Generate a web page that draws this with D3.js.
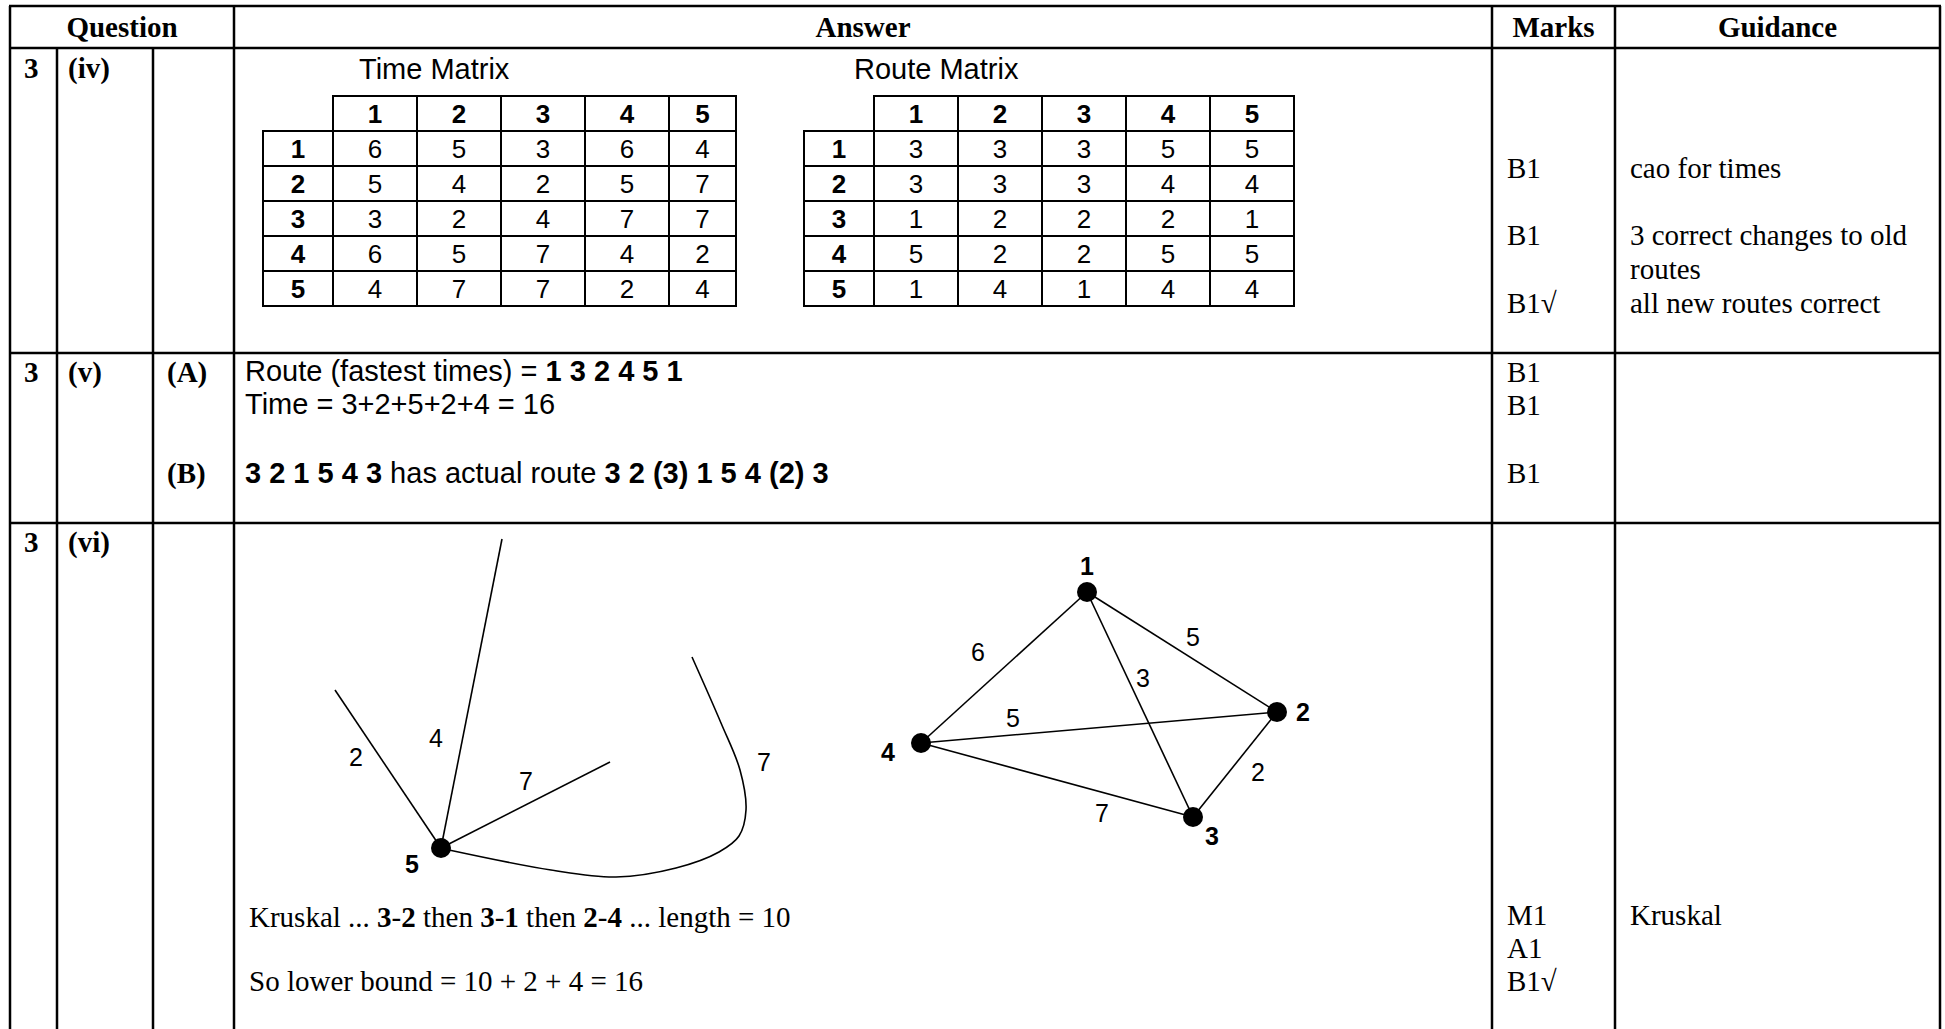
<!DOCTYPE html>
<html>
<head>
<meta charset="utf-8">
<script src="https://cdn.jsdelivr.net/npm/d3@7"></script>
<style>
	html, body { margin: 0; padding: 0; background: #fff; }
	svg { display: block; }
	.serif { font-family: "Liberation Serif", "Times New Roman", serif; font-size: 29px; }
	.sans { font-family: "Liberation Sans", Arial, sans-serif; }
</style>
</head>
<body>
<div id="chart"></div>
<script>
// --- DATA --- //
var headers = ["Question", "Answer", "Marks", "Guidance"];
var nodeNames = ["1", "2", "3", "4", "5"];
var timeMatrix = [
	[6, 5, 3, 6, 4],
	[5, 4, 2, 5, 7],
	[3, 2, 4, 7, 7],
	[6, 5, 7, 4, 2],
	[4, 7, 7, 2, 4]
];
var routeMatrix = [
	[3, 3, 3, 5, 5],
	[3, 3, 3, 4, 4],
	[1, 2, 2, 2, 1],
	[5, 2, 2, 5, 5],
	[1, 4, 1, 4, 4]
];
var matrixTitles = ["Time Matrix", "Route Matrix"];
// network without vertex 5
var edges = [
	{ a: "1", b: "4", w: 6 },
	{ a: "1", b: "2", w: 5 },
	{ a: "1", b: "3", w: 3 },
	{ a: "4", b: "2", w: 5 },
	{ a: "2", b: "3", w: 2 },
	{ a: "4", b: "3", w: 7 }
];
// arcs out of vertex 5
var arcs5 = [2, 4, 7, 7];
var marksIV = ["B1", "B1", "B1\u221A"];
var guidanceIV = ["cao for times", "3 correct changes to old", "routes", "all new routes correct"];
var marksV = ["B1", "B1", "B1"];
var marksVI = ["M1", "A1", "B1\u221A"];
var guidanceVI = ["Kruskal"];

var W = 1945, H = 1029;
var svg = d3.select("#chart").append("svg")
	.attr("width", W)
	.attr("height", H);

svg.append("rect").attr("width", W).attr("height", H).attr("fill", "#fff");

// --- TABLE GRID --- //
var colX = [10, 57, 153, 234, 1492, 1615, 1940],
	rowY = [6, 48, 353, 523],
	grid = svg.append("g").attr("stroke", "#000").attr("stroke-width", 2.5);

rowY.forEach(function(y) {
	grid.append("line").attr("x1", colX[0] - 1).attr("x2", colX[6] + 1).attr("y1", y).attr("y2", y);
});
colX.forEach(function(x, i) {
	// sub-question dividers don't run through the header
	var top = (i === 1 || i === 2) ? rowY[1] : rowY[0];
	grid.append("line").attr("x1", x).attr("x2", x).attr("y1", top).attr("y2", H + 5);
});

// header labels
var headCenters = [(colX[0] + colX[3]) / 2, (colX[3] + colX[4]) / 2, (colX[4] + colX[5]) / 2, (colX[5] + colX[6]) / 2];
svg.selectAll(".head").data(headers).enter().append("text")
	.attr("class", "head serif")
	.attr("x", function(d, i) { return headCenters[i]; })
	.attr("y", 37)
	.attr("text-anchor", "middle")
	.attr("font-weight", "bold")
	.text(function(d) { return d; });

// question numbers
var qLabels = [
	{ t: "3", x: 24, y: 78 }, { t: "(iv)", x: 68, y: 78 },
	{ t: "3", x: 24, y: 382 }, { t: "(v)", x: 68, y: 382 }, { t: "(A)", x: 167, y: 382 },
	{ t: "(B)", x: 167, y: 483 },
	{ t: "3", x: 24, y: 552 }, { t: "(vi)", x: 68, y: 552 }
];
svg.selectAll(".qlab").data(qLabels).enter().append("text")
	.attr("class", "qlab serif")
	.attr("x", function(d) { return d.x; })
	.attr("y", function(d) { return d.y; })
	.attr("font-weight", "bold")
	.text(function(d) { return d.t; });

// plain text lines helper
function lines(data, x, ys, cls) {
	var g = svg.append("g");
	g.selectAll("text").data(data).enter().append("text")
		.attr("class", cls || "serif")
		.attr("x", x)
		.attr("y", function(d, i) { return ys[i]; })
		.text(function(d) { return d; });
}

// mixed bold / regular text helper
function richText(parts, x, y, cls, size) {
	var t = svg.append("text").attr("class", cls).attr("x", x).attr("y", y);
	if (size) t.attr("font-size", size);
	t.selectAll("tspan").data(parts).enter().append("tspan")
		.attr("font-weight", function(d) { return d[1] ? "bold" : "normal"; })
		.text(function(d) { return d[0]; });
}

// --- ROW (iv): MATRICES --- //
function drawMatrix(values, left, right, title, titleX) {
	var labelW = 70,
		x = d3.scaleBand().domain(d3.range(5)).range([left + labelW, left + labelW + 5 * 84]),
		y = d3.scaleBand().domain(d3.range(-1, 5)).range([96, 306]),
		g = svg.append("g").attr("class", "sans").attr("font-size", 26);

	g.append("text")
		.attr("x", titleX).attr("y", 79)
		.attr("font-size", 29)
		.text(title);

	function cellW(i) { return Math.min(x.bandwidth(), right - x(i)); }

	// header row (no corner cell)
	g.selectAll(".hcell").data(nodeNames).enter().append("rect")
		.attr("x", function(d, i) { return x(i); })
		.attr("y", y(-1))
		.attr("width", function(d, i) { return cellW(i); })
		.attr("height", y.bandwidth());
	// row labels
	g.selectAll(".rcell").data(nodeNames).enter().append("rect")
		.attr("x", left)
		.attr("y", function(d, i) { return y(i); })
		.attr("width", labelW)
		.attr("height", y.bandwidth());
	// body cells
	var cells = [];
	values.forEach(function(row, r) {
		row.forEach(function(v, c) { cells.push({ r: r, c: c, v: v }); });
	});
	g.selectAll(".cell").data(cells).enter().append("rect")
		.attr("x", function(d) { return x(d.c); })
		.attr("y", function(d) { return y(d.r); })
		.attr("width", function(d) { return cellW(d.c); })
		.attr("height", y.bandwidth());
	g.selectAll("rect").attr("fill", "none").attr("stroke", "#000").attr("stroke-width", 2);

	var mid = y.bandwidth() / 2 + 9;
	g.selectAll(".htxt").data(nodeNames).enter().append("text")
		.attr("x", function(d, i) { return x(i) + cellW(i) / 2; })
		.attr("y", y(-1) + mid)
		.attr("text-anchor", "middle")
		.attr("font-weight", "bold")
		.text(function(d) { return d; });
	g.selectAll(".rtxt").data(nodeNames).enter().append("text")
		.attr("x", left + labelW / 2)
		.attr("y", function(d, i) { return y(i) + mid; })
		.attr("text-anchor", "middle")
		.attr("font-weight", "bold")
		.text(function(d) { return d; });
	g.selectAll(".ctxt").data(cells).enter().append("text")
		.attr("x", function(d) { return x(d.c) + cellW(d.c) / 2; })
		.attr("y", function(d) { return y(d.r) + mid; })
		.attr("text-anchor", "middle")
		.text(function(d) { return d.v; });
}

drawMatrix(timeMatrix, 263, 736, matrixTitles[0], 359);
drawMatrix(routeMatrix, 804, 1294, matrixTitles[1], 854);

lines(marksIV, 1507, [178, 245, 313]);
lines(guidanceIV, 1630, [178, 245, 279, 313]);

// --- ROW (v) --- //
richText([["Route (fastest times) = ", false], ["1 3 2 4 5 1", true]], 245, 381, "sans", 29);
richText([["Time = 3+2+5+2+4 = 16", false]], 245, 414, "sans", 29);
richText([["3 2 1 5 4 3", true], [" has actual route ", false], ["3 2 (3) 1 5 4 (2) 3", true]], 245, 483, "sans", 29);
lines(marksV, 1507, [382, 415, 483]);

// --- ROW (vi): GRAPHS --- //
var graph = svg.append("g").attr("class", "sans").attr("font-size", 25);

// vertex 5 with its four arcs
var v5 = [441, 848],
	arcEnds = [[335, 690], [502, 539], [610, 762]],
	arcLabelPos = [[356, 757], [436, 738], [526, 781], [764, 762]],
	loopPts = [[449, 850], [551, 870], [616, 877], [676, 868], [719, 852], [739, 836], [746, 810], [740, 770], [721, 723], [692, 657]];

graph.selectAll(".arc").data(arcEnds).enter().append("line")
	.attr("x1", v5[0]).attr("y1", v5[1])
	.attr("x2", function(d) { return d[0]; })
	.attr("y2", function(d) { return d[1]; })
	.attr("stroke", "#000").attr("stroke-width", 1.6);

graph.append("path")
	.attr("d", d3.line().curve(d3.curveCatmullRom.alpha(0.5))(loopPts))
	.attr("fill", "none").attr("stroke", "#000").attr("stroke-width", 1.6);

graph.selectAll(".arcw").data(arcs5).enter().append("text")
	.attr("x", function(d, i) { return arcLabelPos[i][0]; })
	.attr("y", function(d, i) { return arcLabelPos[i][1]; })
	.attr("text-anchor", "middle").attr("dominant-baseline", "central")
	.text(function(d) { return d; });

graph.append("circle").attr("cx", v5[0]).attr("cy", v5[1]).attr("r", 10).attr("fill", "#000");
graph.append("text").attr("x", 412).attr("y", 864)
	.attr("text-anchor", "middle").attr("dominant-baseline", "central")
	.attr("font-weight", "bold").text(nodeNames[4]);

// remaining network
var pos = { "1": [1087, 592], "2": [1277, 712], "3": [1193, 817], "4": [921, 743] },
	namePos = { "1": [1087, 566], "2": [1303, 712], "3": [1212, 836], "4": [888, 752] },
	weightPos = [[978, 652], [1193, 637], [1143, 678], [1013, 718], [1258, 772], [1102, 813]];

graph.selectAll(".edge").data(edges).enter().append("line")
	.attr("x1", function(d) { return pos[d.a][0]; })
	.attr("y1", function(d) { return pos[d.a][1]; })
	.attr("x2", function(d) { return pos[d.b][0]; })
	.attr("y2", function(d) { return pos[d.b][1]; })
	.attr("stroke", "#000").attr("stroke-width", 1.6);

graph.selectAll(".ew").data(edges).enter().append("text")
	.attr("x", function(d, i) { return weightPos[i][0]; })
	.attr("y", function(d, i) { return weightPos[i][1]; })
	.attr("text-anchor", "middle").attr("dominant-baseline", "central")
	.text(function(d) { return d.w; });

var verts = nodeNames.slice(0, 4);
graph.selectAll(".vert").data(verts).enter().append("circle")
	.attr("cx", function(d) { return pos[d][0]; })
	.attr("cy", function(d) { return pos[d][1]; })
	.attr("r", 10).attr("fill", "#000");
graph.selectAll(".vname").data(verts).enter().append("text")
	.attr("x", function(d) { return namePos[d][0]; })
	.attr("y", function(d) { return namePos[d][1]; })
	.attr("text-anchor", "middle").attr("dominant-baseline", "central")
	.attr("font-weight", "bold")
	.text(function(d) { return d; });

// Kruskal working
richText([["Kruskal ... ", false], ["3", true], ["-", false], ["2", true], [" then ", false], ["3", true], ["-", false], ["1", true],
	[" then ", false], ["2", true], ["-", false], ["4", true], [" ... length = 10", false]], 249, 927, "serif");
richText([["So lower bound = 10 + 2 + 4 = 16", false]], 249, 991, "serif");

lines(marksVI, 1507, [925, 958, 991]);
lines(guidanceVI, 1630, [925]);
</script>
</body>
</html>
